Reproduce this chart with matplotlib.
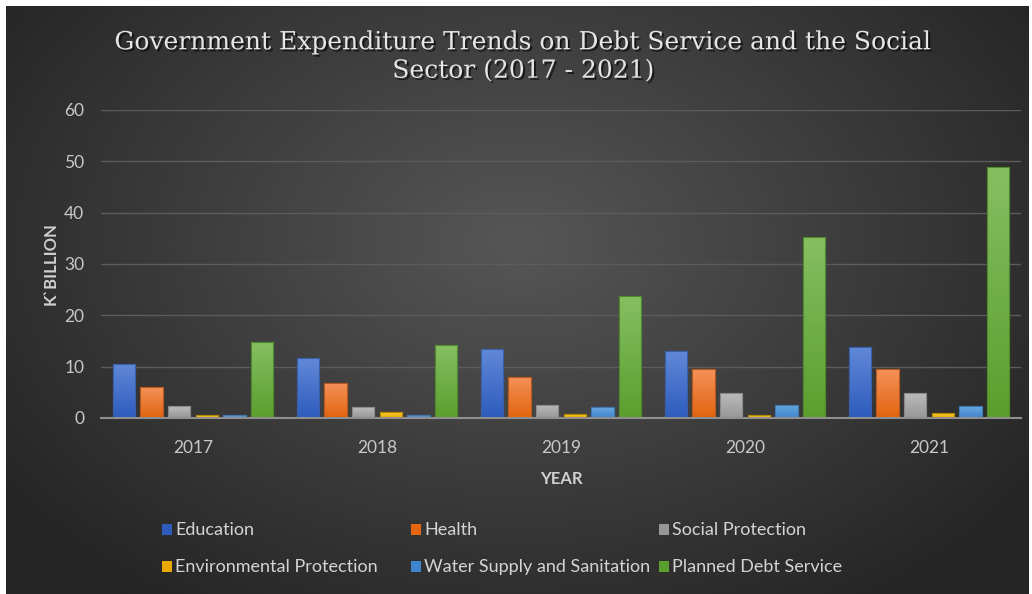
import numpy as np
import matplotlib.pyplot as plt
from matplotlib import patheffects
from matplotlib.colors import LinearSegmentedColormap
from matplotlib.patches import Rectangle

years = ['2017', '2018', '2019', '2020', '2021']
series = ['Education', 'Health', 'Social Protection',
          'Environmental Protection', 'Water Supply and Sanitation',
          'Planned Debt Service']

education = [10.6, 11.6, 13.5, 13.1, 13.9]
health = [6.0, 6.8, 8.0, 9.5, 9.5]
social_protection = [2.3, 2.1, 2.6, 4.9, 4.9]
env_protection = [0.5, 1.2, 0.8, 0.5, 1.0]
water_sanitation = [0.5, 0.6, 2.1, 2.6, 2.3]
debt_service = [14.9, 14.2, 23.7, 35.3, 48.9]

values = [education, health, social_protection, env_protection,
          water_sanitation, debt_service]

# (top colour, bottom colour) for each series
fills = [('#6189d8', '#2e5cbd'),
         ('#f4915a', '#e2650f'),
         ('#bcbcbc', '#979797'),
         ('#ffd23a', '#eaa900'),
         ('#6aa8e0', '#3f86cc'),
         ('#86bf62', '#5a9f2e')]
edges = ['#3a5fa8', '#b5591c', '#8a8a8a', '#b58a00', '#3f78b0', '#4f8a2c']

W, H = 1032, 594
fig = plt.figure(figsize=(W / 100, H / 100), dpi=100)
fig.patch.set_facecolor('white')

# dark radial background
bg = fig.add_axes([6 / W, 0, (W - 9) / W, (H - 6) / H], zorder=-10)
gx, gy = np.meshgrid(np.linspace(0, 1, 400), np.linspace(0, 1, 240))
r = np.sqrt(((gx - 0.50) / 0.62) ** 2 + ((gy - 0.40) / 0.75) ** 2)
r = np.clip(r, 0, 1)
bg_cmap = LinearSegmentedColormap.from_list('bg', ['#565656', '#252525'])
bg.imshow(r, cmap=bg_cmap, aspect='auto', extent=(0, 1, 1, 0),
          interpolation='bilinear')
bg.set_axis_off()

ax = fig.add_axes([101 / W, (H - 418) / H, 920 / W, 308 / H])
ax.patch.set_alpha(0)

x = np.arange(len(years))
width = 0.122
pitch = 0.15
for i, (name, vals) in enumerate(zip(series, values)):
    pos = x + (i - 2.5) * pitch
    bars = ax.bar(pos, vals, width, color=fills[i][1], edgecolor=edges[i],
                  linewidth=0.8, label=name, zorder=3)
    cmap = LinearSegmentedColormap.from_list(name, [fills[i][1], fills[i][0]])
    grad = np.linspace(0, 1, 64).reshape(-1, 1)
    for b in bars:
        bx, by = b.get_x(), b.get_y()
        im = ax.imshow(grad, cmap=cmap, aspect='auto', origin='lower',
                       extent=(bx, bx + b.get_width(), by, by + b.get_height()),
                       zorder=3.5)
        im.set_clip_path(b)
    for b in bars:
        ax.add_patch(Rectangle((b.get_x(), b.get_y()), b.get_width(), b.get_height(),
                               fill=False, edgecolor=edges[i], linewidth=0.8, zorder=4))

ax.set_xlim(-0.5, len(years) - 0.5)
ax.set_ylim(0, 60)
ax.set_yticks(range(0, 61, 10))
ax.set_xticks(x)
ax.set_xticklabels(years)
ax.grid(axis='y', color='#5c5c5c', linewidth=1)
ax.set_axisbelow(True)
for s in ['top', 'right', 'left']:
    ax.spines[s].set_visible(False)
ax.spines['bottom'].set_color('#8f8f8f')
ax.spines['bottom'].set_linewidth(1.5)
ax.spines['bottom'].set_zorder(5)
ax.tick_params(length=0, labelsize=12.5, colors='#c8c8c8')
ax.tick_params(axis='x', pad=16)
ax.tick_params(axis='y', pad=12)
for lab in ax.get_xticklabels() + ax.get_yticklabels():
    lab.set_family('Lato')

ax.set_xlabel('YEAR', fontsize=12, fontweight='bold', color='#d0d0d0',
              family='Lato', labelpad=11)
ax.set_ylabel('K`BILLION', fontsize=12, fontweight='bold', color='#d0d0d0',
              family='Lato', labelpad=4)

title = fig.text(0.507, 1 - 57 / H,
                 'Government Expenditure Trends on Debt Service and the Social\nSector (2017 - 2021)',
                 ha='center', va='center', fontsize=18, color='#e6e6e6',
                 family='DejaVu Serif', linespacing=1.3)
title.set_path_effects([patheffects.withSimplePatchShadow(offset=(1.5, -1.5),
                                                          shadow_rgbFace='black',
                                                          alpha=0.6)])

# legend laid out in two rows of three columns
col_x = [162, 411, 659]
row_y = [530, 567]
for i, name in enumerate(series):
    cx = col_x[i % 3]
    cy = row_y[i // 3]
    fig.patches.append(Rectangle((cx / W, 1 - (cy + 5) / H), 10 / W, 11 / H,
                                 transform=fig.transFigure, figure=fig,
                                 facecolor=fills[i][1], edgecolor='none'))
    fig.text((cx + 13) / W, 1 - cy / H, name, ha='left', va='center',
             fontsize=13, color='#d4d4d4', family='Lato')

fig.savefig('out.png', dpi=100)
